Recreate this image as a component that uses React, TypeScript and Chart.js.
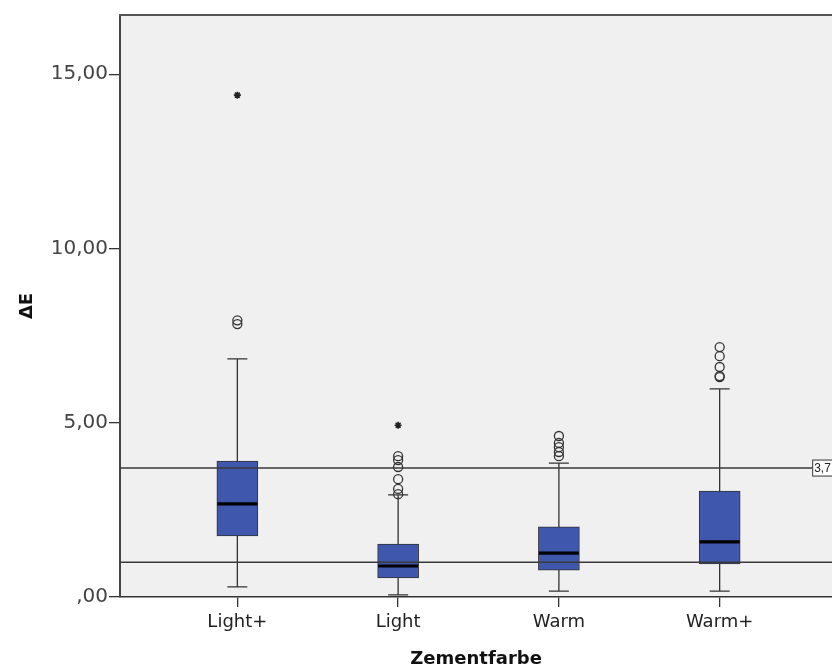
import React, { useEffect, useRef } from 'react';
import { Chart, registerables } from 'chart.js';

Chart.register(...registerables);

const categories = ['Light+', 'Light', 'Warm', 'Warm+'];
const whiskerLow = [0.29, 0.06, 0.17, 0.17];
const q1Values = [1.75, 0.55, 0.77, 0.95];
const medianValues = [2.67, 0.89, 1.26, 1.58];
const q3Values = [3.9, 1.52, 2.01, 3.04];
const whiskerHigh = [6.83, 2.93, 3.84, 5.97];
const outlierValues = [
  [7.83, 7.94],
  [2.95, 3.1, 3.38, 3.73, 3.93, 4.04],
  [4.04, 4.16, 4.3, 4.42, 4.62],
  [6.31, 6.34, 6.6, 6.91, 7.17],
];
const extremeValues = [[14.4], [4.93], [], []];
const referenceLines = [3.7, 1.0];
const referenceLabels = ['3,7', ''];
const yTickValues = [0, 5, 10, 15];

const fmt = (v: number) => (v === 0 ? ',00' : v.toFixed(2).replace('.', ','));

export default function App() {
  const ref = useRef<HTMLCanvasElement>(null);

  useEffect(() => {
    const canvas = ref.current;
    if (!canvas) return;

    const boxPlugin = {
      id: 'boxExtras',
      beforeDraw(chart: any) {
        const { ctx, chartArea: a } = chart;
        ctx.save();
        ctx.fillStyle = '#F0F0F0';
        ctx.fillRect(a.left, a.top, a.right - a.left, a.bottom - a.top);
        ctx.restore();
      },
      beforeDatasetsDraw(chart: any) {
        const { ctx } = chart;
        const xs = chart.scales.x;
        const ys = chart.scales.y;
        ctx.save();
        ctx.strokeStyle = '#333';
        ctx.lineWidth = 1.3;
        categories.forEach((_, i) => {
          const x = xs.getPixelForValue(i + 1);
          const yLo = ys.getPixelForValue(whiskerLow[i]);
          const yHi = ys.getPixelForValue(whiskerHigh[i]);
          ctx.beginPath();
          ctx.moveTo(x, yLo);
          ctx.lineTo(x, yHi);
          ctx.moveTo(x - 10, yLo);
          ctx.lineTo(x + 10, yLo);
          ctx.moveTo(x - 10, yHi);
          ctx.lineTo(x + 10, yHi);
          ctx.stroke();
        });
        ctx.restore();
      },
      afterDatasetsDraw(chart: any) {
        const { ctx, chartArea: a } = chart;
        const xs = chart.scales.x;
        const ys = chart.scales.y;
        ctx.save();
        // medians
        ctx.strokeStyle = '#000';
        ctx.lineWidth = 3.2;
        categories.forEach((_, i) => {
          const x = xs.getPixelForValue(i + 1);
          const y = ys.getPixelForValue(medianValues[i]);
          ctx.beginPath();
          ctx.moveTo(x - 20, y);
          ctx.lineTo(x + 20, y);
          ctx.stroke();
        });
        // reference lines
        ctx.strokeStyle = '#3a3a3a';
        ctx.lineWidth = 1.5;
        referenceLines.forEach((v) => {
          const y = ys.getPixelForValue(v);
          ctx.beginPath();
          ctx.moveTo(a.left, y);
          ctx.lineTo(a.right, y);
          ctx.stroke();
        });
        // reference labels
        referenceLines.forEach((v, i) => {
          const label = referenceLabels[i];
          if (!label) return;
          const y = ys.getPixelForValue(v);
          const bx = a.right - 20;
          ctx.fillStyle = '#fff';
          ctx.fillRect(bx, y - 8, 30, 16);
          ctx.strokeStyle = '#333';
          ctx.lineWidth = 1;
          ctx.strokeRect(bx + 0.5, y - 8, 30, 16);
          ctx.fillStyle = '#222';
          ctx.font = '12px "Liberation Sans", Arial, sans-serif';
          ctx.textBaseline = 'middle';
          ctx.textAlign = 'left';
          ctx.fillText(label, bx + 2, y + 1);
        });
        // top border
        ctx.strokeStyle = '#555';
        ctx.lineWidth = 2;
        ctx.beginPath();
        ctx.moveTo(a.left - 1, a.top);
        ctx.lineTo(a.right, a.top);
        ctx.stroke();
        ctx.restore();
      },
    };

    const boxData = categories.map((_, i) => ({ x: i + 1, y: [q1Values[i], q3Values[i]] }));
    const circleData: { x: number; y: number }[] = [];
    outlierValues.forEach((arr, i) => arr.forEach((v) => circleData.push({ x: i + 1, y: v })));
    const starData: { x: number; y: number }[] = [];
    extremeValues.forEach((arr, i) => arr.forEach((v) => starData.push({ x: i + 1, y: v })));

    const chart = new Chart(canvas, {
      type: 'bar',
      data: {
        datasets: [
          {
            type: 'scatter',
            label: 'Ausreißer',
            data: circleData,
            pointStyle: 'circle',
            pointRadius: 4.5,
            pointBorderWidth: 1.3,
            pointBorderColor: '#333',
            pointBackgroundColor: 'rgba(0,0,0,0)',
          } as any,
          {
            type: 'scatter',
            label: 'Extremwerte',
            data: starData,
            pointStyle: 'star',
            pointRadius: 3.5,
            pointBorderWidth: 1.6,
            pointBorderColor: '#222',
            pointBackgroundColor: '#222',
          } as any,
          {
            type: 'bar',
            label: 'ΔE',
            data: boxData,
            backgroundColor: '#3F57AC',
            borderColor: '#333',
            borderWidth: 1,
            borderSkipped: false,
            barThickness: 41,
            grouped: false,
          } as any,
        ],
      },
      options: {
        animation: false,
        responsive: false,
        maintainAspectRatio: false,
        layout: { padding: { top: 15, right: 0, left: 0, bottom: 0 } },
        plugins: { legend: { display: false }, tooltip: { enabled: false } },
        scales: {
          x: {
            type: 'linear',
            offset: false,
            min: 0.27,
            max: 4.7,
            afterBuildTicks: (s: any) => {
              s.ticks = categories.map((_, i) => ({ value: i + 1 }));
            },
            afterFit: (s: any) => {
              s.height = 73;
              s.paddingRight = 0;
              s.paddingLeft = 0;
            },
            ticks: {
              autoSkip: false,
              maxRotation: 0,
              padding: 5,
              color: '#222',
              font: { family: 'DejaVu Sans', size: 18 },
              callback: (v: any) => categories[Number(v) - 1] ?? '',
            },
            grid: { offset: false, drawOnChartArea: false, drawTicks: true, tickLength: 10, color: '#333', lineWidth: 1.3 },
            border: { display: true, color: '#333', width: 1.5 },
            title: {
              display: true,
              text: 'Zementfarbe',
              color: '#111',
              font: { family: 'DejaVu Sans', size: 18, weight: 'bold' },
              padding: { top: 0, bottom: 0 },
            },
          },
          y: {
            type: 'linear',
            min: 0,
            max: 16.7,
            afterBuildTicks: (s: any) => {
              s.ticks = yTickValues.map((v) => ({ value: v }));
            },
            afterFit: (s: any) => {
              s.width = 120;
            },
            ticks: {
              padding: 1,
              color: '#444',
              font: { family: 'DejaVu Sans', size: 20 },
              callback: (v: any) => fmt(Number(v)),
            },
            grid: { drawOnChartArea: false, drawTicks: true, tickLength: 11, color: '#333', lineWidth: 1.3 },
            border: { display: true, color: '#444', width: 2 },
            title: {
              display: true,
              text: 'ΔE',
              color: '#111',
              font: { family: 'DejaVu Sans', size: 18, weight: 'bold' },
              padding: { top: 17, bottom: 0 },
            },
          },
        },
      },
      plugins: [boxPlugin],
    } as any);

    return () => chart.destroy();
  }, []);

  return (
    <div style={{ position: 'absolute', left: 0, top: 0, width: 832, height: 670, overflow: 'hidden', background: '#fff' }}>
      <canvas ref={ref} width={838} height={670} style={{ display: 'block' }} />
    </div>
  );
}
